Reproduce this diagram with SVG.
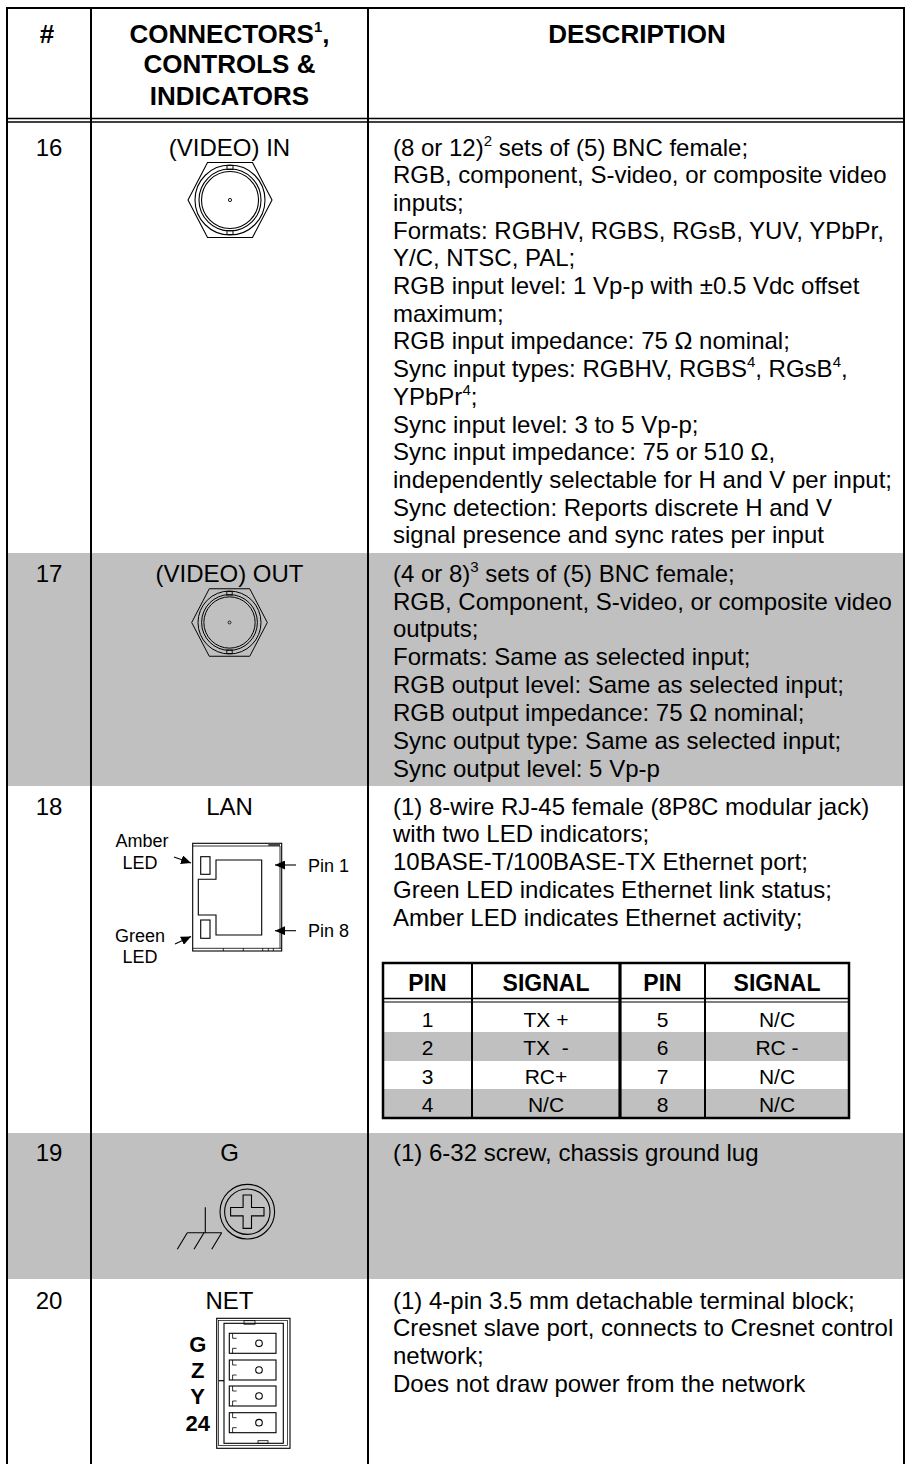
<svg xmlns="http://www.w3.org/2000/svg" width="906" height="1464" viewBox="0 0 906 1464">
<style>
text{font-family:"Liberation Sans",Arial,Helvetica,sans-serif;fill:#000}
.b{font-size:24px}
.h{font-size:26px;font-weight:bold;text-anchor:middle}
.c{text-anchor:middle}
.s{font-size:18px}
.ph{font-size:23px;font-weight:bold;text-anchor:middle}
.pb{font-size:21px;text-anchor:middle}
.nl{font-size:22px;font-weight:bold;text-anchor:middle}
.ln{stroke:#000;stroke-width:2;fill:none}
.thin{stroke:#000;stroke-width:1.1;fill:none}
.gray{fill:#C0C0C0}
</style>
<defs>
<g id="bnc">
<polygon points="-42,0 -22.5,-37.5 22.5,-37.5 42,0 22.5,37.5 -22.5,37.5" fill="none" stroke="#000" stroke-width="1.1"/>
<circle r="35" fill="none" stroke="#000" stroke-width="1.1"/>
<circle r="31" fill="none" stroke="#000" stroke-width="1.1"/>
<circle r="28.5" fill="none" stroke="#000" stroke-width="1.1"/>
<rect x="-3" y="-34.5" width="6" height="4" fill="none" stroke="#000" stroke-width="1"/>
<rect x="-3" y="30.5" width="6" height="4" fill="none" stroke="#000" stroke-width="1"/>
<circle r="1.6" fill="none" stroke="#000" stroke-width="0.9"/>
</g>
<marker id="ah" markerUnits="userSpaceOnUse" markerWidth="11" markerHeight="9" refX="10" refY="4.5" orient="auto">
<path d="M0,0 L10,4.5 L0,9 z" fill="#000"/>
</marker>
</defs>

<g id="backgrounds">
<rect class="gray" x="7" y="553" width="897" height="233"/>
<rect class="gray" x="7" y="1133" width="897" height="146"/>
</g>

<g id="header">
<text class="h" x="47" y="42.5">#</text>
<text class="h" x="229.5" y="42.5">CONNECTORS<tspan font-size="15" dy="-11">1</tspan><tspan dy="11">,</tspan></text>
<text class="h" x="229.5" y="73">CONTROLS &amp;</text>
<text class="h" x="229.5" y="104.5">INDICATORS</text>
<text class="h" x="637" y="42.5">DESCRIPTION</text>
</g>

<g id="grid">
<line class="ln" x1="6" y1="8" x2="905" y2="8"/>
<line class="ln" x1="7" y1="8" x2="7" y2="1464"/>
<line class="ln" x1="91" y1="8" x2="91" y2="1464"/>
<line class="ln" x1="368" y1="8" x2="368" y2="1464"/>
<line class="ln" x1="904" y1="8" x2="904" y2="1464"/>
<line x1="6" y1="118.5" x2="905" y2="118.5" stroke="#000" stroke-width="1.5"/>
<line x1="6" y1="122" x2="905" y2="122" stroke="#000" stroke-width="1.5"/>
</g>

<g id="row16">
<text class="b c" x="49" y="155.5">16</text>
<text class="b c" x="229.5" y="155.5">(VIDEO) IN</text>
<use href="#bnc" transform="translate(230,200)"/>
<text class="b" x="393" y="155.5">(8 or 12)<tspan font-size="15" dy="-10">2</tspan><tspan dy="10"> sets of (5) BNC female;</tspan></text>
<text class="b" x="393" y="183.2">RGB, component, S-video, or composite video</text>
<text class="b" x="393" y="210.9">inputs;</text>
<text class="b" x="393" y="238.6">Formats: RGBHV, RGBS, RGsB, YUV, YPbPr,</text>
<text class="b" x="393" y="266.3">Y/C, NTSC, PAL;</text>
<text class="b" x="393" y="294">RGB input level: 1 Vp-p with ±0.5 Vdc offset</text>
<text class="b" x="393" y="321.7">maximum;</text>
<text class="b" x="393" y="349.4">RGB input impedance: 75 Ω nominal;</text>
<text class="b" x="393" y="377.1">Sync input types: RGBHV, RGBS<tspan font-size="15" dy="-10">4</tspan><tspan dy="10">, RGsB</tspan><tspan font-size="15" dy="-10">4</tspan><tspan dy="10">,</tspan></text>
<text class="b" x="393" y="404.8">YPbPr<tspan font-size="15" dy="-10">4</tspan><tspan dy="10">;</tspan></text>
<text class="b" x="393" y="432.5">Sync input level: 3 to 5 Vp-p;</text>
<text class="b" x="393" y="460.2">Sync input impedance: 75 or 510 Ω,</text>
<text class="b" x="393" y="487.9">independently selectable for H and V per input;</text>
<text class="b" x="393" y="515.6">Sync detection: Reports discrete H and V</text>
<text class="b" x="393" y="543.3">signal presence and sync rates per input</text>
</g>

<g id="row17">
<text class="b c" x="49" y="581.6">17</text>
<text class="b c" x="229.5" y="581.6">(VIDEO) OUT</text>
<use href="#bnc" transform="translate(229.5,622.5) scale(0.9)"/>
<text class="b" x="393" y="581.6">(4 or 8)<tspan font-size="15" dy="-10">3</tspan><tspan dy="10"> sets of (5) BNC female;</tspan></text>
<text class="b" x="393" y="609.5">RGB, Component, S-video, or composite video</text>
<text class="b" x="393" y="637.4">outputs;</text>
<text class="b" x="393" y="665.3">Formats: Same as selected input;</text>
<text class="b" x="393" y="693.2">RGB output level: Same as selected input;</text>
<text class="b" x="393" y="721.1">RGB output impedance: 75 Ω nominal;</text>
<text class="b" x="393" y="749">Sync output type: Same as selected input;</text>
<text class="b" x="393" y="776.9">Sync output level: 5 Vp-p</text>
</g>

<g id="row18">
<text class="b c" x="49" y="814.6">18</text>
<text class="b c" x="229.5" y="814.6">LAN</text>
<g id="lan-jack">
<rect x="192.7" y="843.3" width="89" height="107.7" class="thin"/>
<line x1="193" y1="846" x2="280" y2="846" stroke="#000" stroke-width="0.8"/>
<line x1="280" y1="846" x2="280" y2="948.3" stroke="#000" stroke-width="0.8"/>
<rect x="268.3" y="843.3" width="11.7" height="2.7" fill="#444"/>
<line x1="193" y1="948.3" x2="281.7" y2="948.3" stroke="#000" stroke-width="0.8"/>
<path d="M223.3,948.3V951M243.3,948.3V951M262.7,948.3V951M268.3,948.3V951M273.3,948.3V951" stroke="#000" stroke-width="0.8"/>
<path d="M216,860H261.7V935H216V915H198.3V879.3H216Z" class="thin"/>
<rect x="200.7" y="856.7" width="9.3" height="17.6" class="thin"/>
<rect x="200.7" y="920" width="9.3" height="18.3" class="thin"/>
</g>
<text class="s c" x="142" y="847">Amber</text>
<text class="s c" x="140" y="869">LED</text>
<text class="s c" x="140" y="941.5">Green</text>
<text class="s c" x="140" y="963">LED</text>
<text class="s" x="308" y="871.5">Pin 1</text>
<text class="s" x="308" y="937">Pin 8</text>
<text class="b" x="393" y="814.6">(1) 8-wire RJ-45 female (8P8C modular jack)</text>
<text class="b" x="393" y="842.4">with two LED indicators;</text>
<text class="b" x="393" y="870.2">10BASE-T/100BASE-TX Ethernet port;</text>
<text class="b" x="393" y="898">Green LED indicates Ethernet link status;</text>
<text class="b" x="393" y="925.8">Amber LED indicates Ethernet activity;</text>
<g id="pin-table">
<rect class="gray" x="383" y="1032" width="466" height="29"/>
<rect class="gray" x="383" y="1089" width="466" height="29"/>
<rect x="383" y="963" width="466" height="155" fill="none" stroke="#000" stroke-width="2.5"/>
<line x1="383" y1="998.5" x2="849" y2="998.5" stroke="#000" stroke-width="1.6"/>
<line x1="383" y1="1002" x2="849" y2="1002" stroke="#000" stroke-width="1.2"/>
<line x1="472" y1="963" x2="472" y2="1118" stroke="#000" stroke-width="2"/>
<line x1="620" y1="963" x2="620" y2="1118" stroke="#000" stroke-width="3.2"/>
<line x1="705" y1="963" x2="705" y2="1118" stroke="#000" stroke-width="2"/>
<text class="ph" x="427.5" y="991">PIN</text>
<text class="ph" x="546" y="991">SIGNAL</text>
<text class="ph" x="662.5" y="991">PIN</text>
<text class="ph" x="777" y="991">SIGNAL</text>
<text class="pb" x="427.5" y="1026.5">1</text>
<text class="pb" x="546" y="1026.5">TX +</text>
<text class="pb" x="662.5" y="1026.5">5</text>
<text class="pb" x="777" y="1026.5">N/C</text>
<text class="pb" x="427.5" y="1054.5">2</text>
<text class="pb" x="546" y="1054.5" xml:space="preserve">TX  -</text>
<text class="pb" x="662.5" y="1054.5">6</text>
<text class="pb" x="777" y="1054.5">RC -</text>
<text class="pb" x="427.5" y="1083.5">3</text>
<text class="pb" x="546" y="1083.5">RC+</text>
<text class="pb" x="662.5" y="1083.5">7</text>
<text class="pb" x="777" y="1083.5">N/C</text>
<text class="pb" x="427.5" y="1111.5">4</text>
<text class="pb" x="546" y="1111.5">N/C</text>
<text class="pb" x="662.5" y="1111.5">8</text>
<text class="pb" x="777" y="1111.5">N/C</text>
</g>
</g>

<g id="row19">
<text class="b c" x="49" y="1160.6">19</text>
<text class="b c" x="229.5" y="1160.6">G</text>
<g id="ground-lug">
<circle cx="247.3" cy="1211.7" r="27.3" class="thin"/>
<circle cx="247.3" cy="1211.7" r="22.7" class="thin"/>
<path d="M243.1,1195H251.5V1207.5H264V1215.9H251.5V1228.4H243.1V1215.9H230.6V1207.5H243.1Z" class="thin"/>
<line x1="205.3" y1="1207.3" x2="205.3" y2="1232.7" class="thin"/>
<line x1="187.3" y1="1232.7" x2="221.7" y2="1232.7" class="thin"/>
<path d="M187.3,1232.7L177.3,1249.3M204,1232.7L194,1249.3M221.7,1232.7L211.7,1249.3" class="thin"/>
</g>
<text class="b" x="393" y="1160.6">(1) 6-32 screw, chassis ground lug</text>
</g>

<g id="row20">
<text class="b c" x="49" y="1308.6">20</text>
<text class="b c" x="229.5" y="1308.6">NET</text>
<g id="net-block">
<rect x="216.7" y="1318.3" width="73.3" height="130" class="thin"/>
<rect x="218.6" y="1320.6" width="69" height="125" fill="none" stroke="#000" stroke-width="0.7"/>
<rect x="224" y="1323.3" width="59.3" height="120" class="thin"/>
<rect x="244" y="1320.7" width="11" height="3.5" fill="none" stroke="#000" stroke-width="0.8"/>
<rect x="258" y="1440.7" width="10" height="2.6" fill="none" stroke="#000" stroke-width="0.8"/>
<line x1="218.6" y1="1380.7" x2="224" y2="1380.7" stroke="#000" stroke-width="1.2"/>
<g id="cells" class="thin">
<rect x="229.3" y="1333.3" width="46.7" height="20"/>
<rect x="229.3" y="1360" width="46.7" height="20"/>
<rect x="229.3" y="1386" width="46.7" height="20"/>
<rect x="229.3" y="1412.7" width="46.7" height="20"/>
<path d="M232.6,1333.3V1338.3H236.6M232.6,1353.3V1348.3H236.6M232.6,1360V1365H236.6M232.6,1380V1375H236.6M232.6,1386V1391H236.6M232.6,1406V1401H236.6M232.6,1412.7V1417.7H236.6M232.6,1432.7V1427.7H236.6" stroke-width="0.8"/>
<circle cx="259" cy="1343.3" r="3.3"/>
<circle cx="259" cy="1370" r="3.3"/>
<circle cx="259" cy="1396" r="3.3"/>
<circle cx="259" cy="1422.7" r="3.3"/>
</g>
</g>
<text class="nl" x="197.7" y="1351.5">G</text>
<text class="nl" x="197.7" y="1378">Z</text>
<text class="nl" x="197.7" y="1404">Y</text>
<text class="nl" x="197.7" y="1431">24</text>
<text class="b" x="393" y="1308.6">(1) 4-pin 3.5 mm detachable terminal block;</text>
<text class="b" x="393" y="1336.3">Cresnet slave port, connects to Cresnet control</text>
<text class="b" x="393" y="1364">network;</text>
<text class="b" x="393" y="1391.7">Does not draw power from the network</text>
</g>

<g id="connectors">
<line x1="174" y1="857" x2="191" y2="863" stroke="#000" stroke-width="1.1" marker-end="url(#ah)"/>
<line x1="175" y1="944" x2="191" y2="936.5" stroke="#000" stroke-width="1.1" marker-end="url(#ah)"/>
<line x1="296" y1="865" x2="275" y2="865" stroke="#000" stroke-width="1.1" marker-end="url(#ah)"/>
<line x1="296" y1="930.7" x2="275" y2="930.7" stroke="#000" stroke-width="1.1" marker-end="url(#ah)"/>
</g>
</svg>
